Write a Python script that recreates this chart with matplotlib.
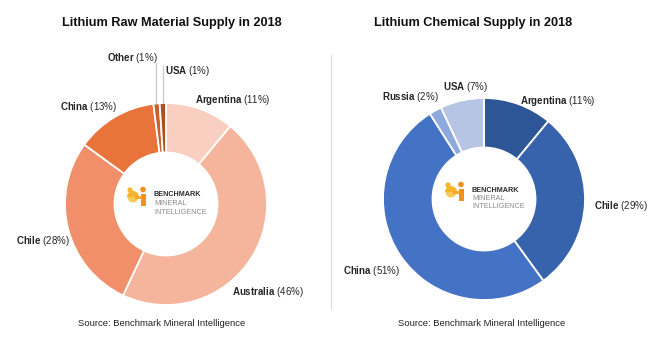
import matplotlib
matplotlib.use('Agg')
import matplotlib.pyplot as plt
from matplotlib import font_manager
from matplotlib.patches import Circle, Rectangle, Wedge

# supply shares, clockwise from 12 o'clock
raw_names = ['Argentina', 'Australia', 'Chile', 'China', 'Other', 'USA']
raw_share = [11, 46, 28, 13, 1, 1]
raw_colors = ['#f9cfc1', '#f5b49c', '#f08f6a', '#e8743c', '#c9612c', '#b0501f']

chem_names = ['Argentina', 'Chile', 'China', 'Russia', 'USA']
chem_share = [11, 29, 51, 2, 7]
chem_colors = ['#2d5696', '#3763ad', '#4472c4', '#8eaadc', '#b6c5e4']

titles = ['Lithium Raw Material Supply in 2018', 'Lithium Chemical Supply in 2018']
source = 'Source: Benchmark Mineral Intelligence'

W, H = 667, 341
plt.rcParams['font.family'] = ['Liberation Sans', 'DejaVu Sans']
plt.rcParams['mathtext.fontset'] = 'custom'
plt.rcParams['mathtext.rm'] = 'Liberation Sans'
plt.rcParams['mathtext.bf'] = 'Liberation Sans:bold'

installed = {f.name for f in font_manager.fontManager.ttflist}
if 'Liberation Sans Narrow' in installed:
    title_font, title_size = 'Liberation Sans Narrow', 11
else:
    title_font, title_size = 'Liberation Sans', 9.2

fig = plt.figure(figsize=(W / 100, H / 100), dpi=100)

R = 101


def donut(cx, cy, shares, colors):
    ax = fig.add_axes([(cx - R) / W, (H - cy - R) / H, 2 * R / W, 2 * R / H])
    ax.pie(shares, colors=colors, startangle=90, counterclock=False,
           radius=1, wedgeprops=dict(width=0.49, edgecolor='white', linewidth=1.3))
    ax.set_xlim(-1.0, 1.0)
    ax.set_ylim(-1.0, 1.0)
    ax.axis('off')


centers = [(166, 204), (484, 199)]
donut(*centers[0], raw_share, raw_colors)
donut(*centers[1], chem_share, chem_colors)

# overlay in pixel coordinates for text, logo and lines
ov = fig.add_axes([0, 0, 1, 1])
ov.set_xlim(0, W)
ov.set_ylim(H, 0)
ov.axis('off')


def label(x, y, name, pct, ha='left'):
    ov.text(x, y, r'$\mathbf{' + name + '}$ (' + str(pct) + '%)', fontsize=7,
            color='#262626', ha=ha, va='center')


raw_pos = {'Argentina': (195, 100, 'left'), 'Australia': (232, 292, 'left'),
           'Chile': (16, 241, 'left'), 'China': (117, 107, 'right'),
           'Other': (107, 58, 'left'), 'USA': (165, 71, 'left')}
chem_pos = {'Argentina': (520, 101, 'left'), 'Chile': (594, 206, 'left'),
            'China': (343, 271, 'left'), 'Russia': (382, 97, 'left'),
            'USA': (443, 87, 'left')}

for n, s in zip(raw_names, raw_share):
    x, y, ha = raw_pos[n]
    label(x, y, n, s, ha)
for n, s in zip(chem_names, chem_share):
    x, y, ha = chem_pos[n]
    label(x, y, n, s, ha)

# leader lines for the two thin slices
ov.plot([155.5, 155.5], [63, 103], color='#c8c8c8', lw=0.9)
ov.plot([163, 163], [66, 103], color='#c8c8c8', lw=0.9)

# divider
ov.plot([331, 331], [55, 308], color='#d9d9d9', lw=0.8)

ov.text(172, 23, titles[0], fontsize=title_size, fontweight='bold',
        fontfamily=title_font, ha='center', va='center', color='#111111')
ov.text(473, 23, titles[1], fontsize=title_size, fontweight='bold',
        fontfamily=title_font, ha='center', va='center', color='#111111')

ov.text(162, 323, source, fontsize=6.8, ha='center', va='center', color='#222222')
ov.text(482, 323, source, fontsize=6.8, ha='center', va='center', color='#222222')


def logo(cx, cy):
    x0, y0 = cx - 40, cy - 18
    ov.add_patch(Circle((x0 + 4, y0 + 4), 2.6, color='#f6b42a', lw=0))
    ov.add_patch(Circle((x0 + 17, y0 + 3.5), 2.8, color='#f29121', lw=0))
    ov.add_patch(Wedge((x0 + 7, y0 + 11), 6, 180, 360, color='#f6b42a', lw=0))
    ov.add_patch(Wedge((x0 + 7, y0 + 11), 5.5, 0, 180, color='#f9c95a', lw=0))
    ov.add_patch(Rectangle((x0 + 14.5, y0 + 8), 5, 12, color='#f29121', lw=0))
    ov.add_patch(Rectangle((x0 + 9, y0 + 9.5), 7, 3, color='#f7a825', lw=0))
    tx = cx - 12
    ov.text(tx, cy - 9, 'BENCHMARK', fontsize=5.2, fontweight='bold',
            color='#2b2b2b', va='center', ha='left')
    ov.text(tx, cy - 0.5, 'MINERAL', fontsize=5.2, color='#8a8a8a',
            va='center', ha='left')
    ov.text(tx, cy + 8, 'INTELLIGENCE', fontsize=5.2, color='#8a8a8a',
            va='center', ha='left')


logo(*centers[0])
logo(*centers[1])

fig.savefig('out.png', dpi=100)
